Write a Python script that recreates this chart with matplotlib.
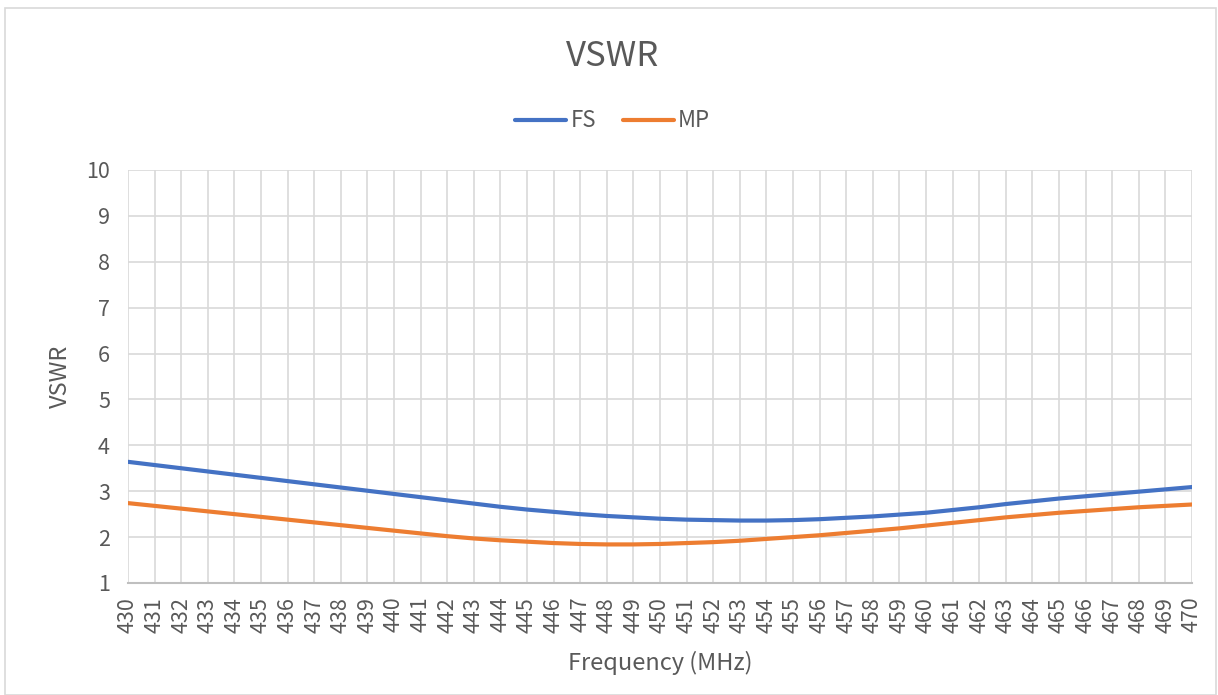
import matplotlib
matplotlib.use("Agg")
import matplotlib.pyplot as plt
from matplotlib.patches import Rectangle

plt.rcParams['font.family'] = ['Noto Sans CJK SC', 'DejaVu Sans']
plt.rcParams['font.weight'] = 'light'

freq = list(range(430, 471))
fs = [3.64, 3.57, 3.50, 3.43, 3.36, 3.29, 3.22, 3.15, 3.08, 3.01,
      2.94, 2.87, 2.80, 2.73, 2.66, 2.60, 2.55, 2.50, 2.46, 2.43,
      2.40, 2.38, 2.37, 2.36, 2.36, 2.37, 2.39, 2.42, 2.45, 2.49,
      2.53, 2.59, 2.65, 2.72, 2.78, 2.84, 2.89, 2.94, 2.99, 3.04,
      3.09]
mp = [2.74, 2.68, 2.62, 2.56, 2.50, 2.44, 2.38, 2.32, 2.26, 2.20,
      2.14, 2.08, 2.02, 1.97, 1.93, 1.90, 1.87, 1.85, 1.84, 1.84,
      1.85, 1.87, 1.89, 1.92, 1.96, 2.00, 2.04, 2.09, 2.14, 2.19,
      2.25, 2.31, 2.37, 2.43, 2.48, 2.53, 2.57, 2.61, 2.65, 2.68,
      2.71]

txt = '#595959'
fig = plt.figure(figsize=(12.18, 6.95), dpi=100)
fig.patches.append(Rectangle((0.004, 0.0), 0.994, 0.988, transform=fig.transFigure,
                             fill=False, edgecolor='#d9d9d9', lw=1.2))
ax = fig.add_axes([0.1051, 0.1612, 0.8736, 0.5942])

ax.plot(freq, fs, color='#4472C4', lw=3, label='FS', solid_capstyle='round')
ax.plot(freq, mp, color='#ED7D31', lw=3, label='MP', solid_capstyle='round')

ax.set_xlim(430, 470)
ax.set_ylim(1, 10)
ax.set_xticks(freq)
ax.set_xticklabels([str(f) for f in freq], rotation=90, fontsize=15.5, color=txt)
ax.set_yticks(range(1, 11))
ax.tick_params(axis='y', labelsize=15.5, labelcolor=txt, length=0, pad=13)
ax.tick_params(axis='x', length=0, pad=10)
ax.grid(True, color='#d9d9d9', lw=1.2)
ax.set_axisbelow(True)
for s in ['top', 'right', 'left']:
    ax.spines[s].set_visible(False)
ax.spines['bottom'].set_color('#bfbfbf')
ax.spines['bottom'].set_linewidth(1.5)

ax.set_ylabel('VSWR', fontsize=17, color=txt, labelpad=10)
ax.set_xlabel('Frequency (MHz)', fontsize=17, color=txt, labelpad=13)

fig.text(0.503, 0.918, 'VSWR', ha='center', va='center', fontsize=25, color=txt)
fig.legend(loc='center', bbox_to_anchor=(0.503, 0.826), ncol=2, frameon=False,
           fontsize=16, labelcolor=txt, handlelength=2.3, handletextpad=0.2,
           columnspacing=1.2)

fig.savefig('out.png', dpi=100)
